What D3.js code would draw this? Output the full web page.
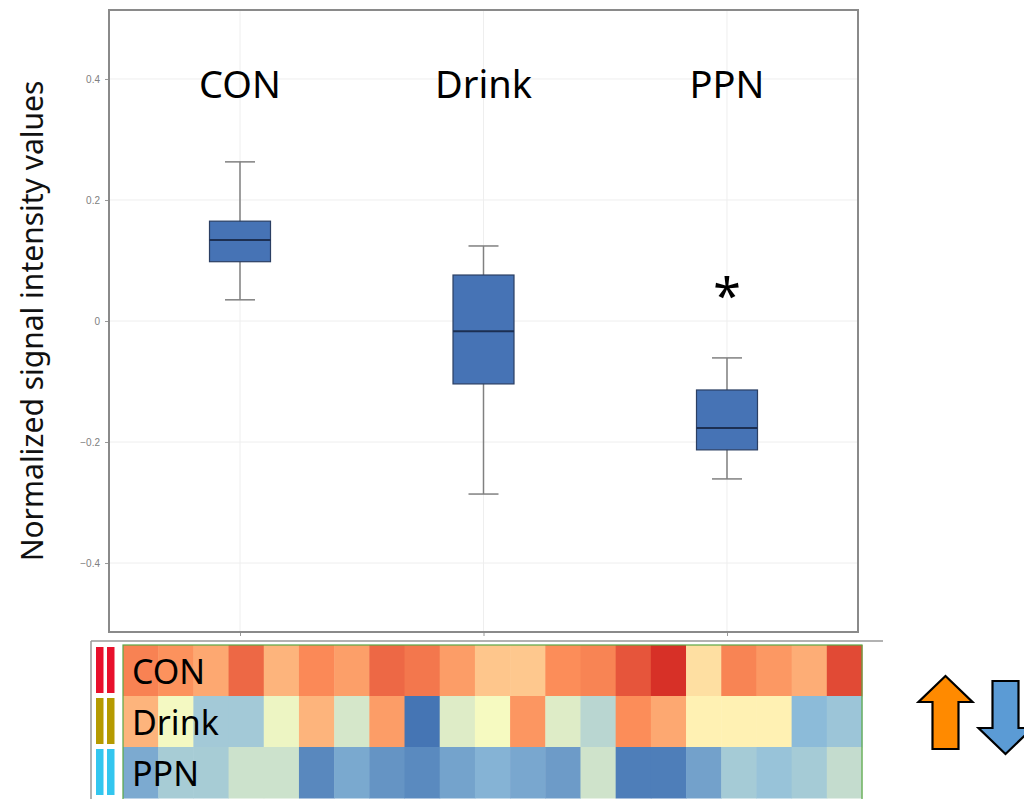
<!DOCTYPE html>
<html>
<head>
<meta charset="utf-8">
<script src="https://cdn.jsdelivr.net/npm/d3@7/dist/d3.min.js"></script>
<style>
  body { margin: 0; background: #fff; }
  svg { display: block; font-family: "Noto Sans", "Open Sans", sans-serif; }
</style>
</head>
<body>
<div id="chart"></div>
<script>
// box plot summary per group
var groups = ["CON", "Drink", "PPN"];
var whiskerHigh = [0.263, 0.124, -0.061];
var upperQuartile = [0.165, 0.076, -0.114];
var medians = [0.134, -0.017, -0.177];
var lowerQuartile = [0.098, -0.104, -0.213];
var whiskerLow = [0.035, -0.286, -0.261];
var yTicks = [-0.4, -0.2, 0, 0.2, 0.4];
var significant = [false, false, true];

// heatmap rows (scaled expression, -1 blue .. 1 red)
var heatRows = ["CON", "Drink", "PPN"];
var heatCON = [0.56, 0.48, 0.38, 0.70, 0.33, 0.52, 0.42, 0.70, 0.62, 0.43, 0.25, 0.24, 0.50, 0.55, 0.80, 1.00, 0.14, 0.55, 0.45, 0.36, 0.86];
var heatDrink = [0.33, -0.05, -0.42, -0.42, -0.08, 0.33, -0.19, 0.43, -1.00, -0.15, -0.04, 0.46, -0.15, -0.32, 0.50, 0.38, 0.06, 0.06, 0.06, -0.53, -0.45];
var heatPPN = [-0.64, -0.40, -0.40, -0.23, -0.23, -0.87, -0.65, -0.79, -0.86, -0.69, -0.58, -0.66, -0.74, -0.22, -0.94, -0.94, -0.70, -0.41, -0.47, -0.41, -0.27];
var rowColors = ["#e8102c", "#b59a00", "#33c6ef"];

var width = 1024, height = 799;

var svg = d3.select("#chart").append("svg")
    .attr("width", width)
    .attr("height", height);

var panel = {left: 109, right: 858, top: 10, bottom: 632};

var x = d3.scalePoint()
    .domain(groups)
    .range([panel.left, panel.right])
    .padding(0.538);

var y = d3.scaleLinear()
    .domain([-0.514, 0.514])
    .range([panel.bottom, panel.top]);

// grid
var grid = svg.append("g");
grid.selectAll("line.h")
    .data(yTicks)
    .enter().append("line")
    .attr("x1", panel.left).attr("x2", panel.right)
    .attr("y1", function(d){ return y(d); })
    .attr("y2", function(d){ return y(d); })
    .attr("stroke", "#eeeeee");
grid.selectAll("line.v")
    .data(groups)
    .enter().append("line")
    .attr("y1", panel.top).attr("y2", panel.bottom)
    .attr("x1", function(d){ return x(d); })
    .attr("x2", function(d){ return x(d); })
    .attr("stroke", "#eeeeee");

// axes
var yAxis = svg.append("g")
    .attr("transform", "translate(" + panel.left + ",0)")
    .call(d3.axisLeft(y).tickValues(yTicks).tickSize(4).tickPadding(5)
        .tickFormat(function(d){ return d === 0 ? "0" : d3.format(".1f")(d); }));
yAxis.select(".domain").remove();
yAxis.selectAll("line").attr("stroke", "#999");
yAxis.selectAll("text").attr("fill", "#808080").style("font-size", "10px");

var xAxis = svg.append("g")
    .attr("transform", "translate(0," + panel.bottom + ")")
    .call(d3.axisBottom(x).tickSize(4).tickFormat(""));
xAxis.select(".domain").remove();
xAxis.selectAll("line").attr("stroke", "#999");

svg.append("rect")
    .attr("x", panel.left).attr("y", panel.top)
    .attr("width", panel.right - panel.left)
    .attr("height", panel.bottom - panel.top)
    .attr("fill", "none")
    .attr("stroke", "#8a8a8a")
    .attr("stroke-width", 2);

svg.append("text")
    .attr("transform", "translate(43," + y(0) + ") rotate(-90)")
    .attr("text-anchor", "middle")
    .style("font-size", "30px")
    .attr("fill", "#111")
    .text("Normalized signal intensity values");

// boxes
var boxW = 61, capW = 30;
var boxes = svg.append("g").selectAll("g")
    .data(groups)
    .enter().append("g");

boxes.append("line")
    .attr("x1", function(d){ return x(d); })
    .attr("x2", function(d){ return x(d); })
    .attr("y1", function(d, i){ return y(whiskerHigh[i]); })
    .attr("y2", function(d, i){ return y(whiskerLow[i]); })
    .attr("stroke", "#808080").attr("stroke-width", 1.5);

boxes.selectAll("line.cap")
    .data(function(d, i){ return [{g: d, v: whiskerHigh[i]}, {g: d, v: whiskerLow[i]}]; })
    .enter().append("line")
    .attr("class", "cap")
    .attr("x1", function(d){ return x(d.g) - capW / 2; })
    .attr("x2", function(d){ return x(d.g) + capW / 2; })
    .attr("y1", function(d){ return y(d.v); })
    .attr("y2", function(d){ return y(d.v); })
    .attr("stroke", "#808080").attr("stroke-width", 1.5);

boxes.append("rect")
    .attr("x", function(d){ return x(d) - boxW / 2; })
    .attr("y", function(d, i){ return y(upperQuartile[i]); })
    .attr("width", boxW)
    .attr("height", function(d, i){ return y(lowerQuartile[i]) - y(upperQuartile[i]); })
    .attr("fill", "#4673b5")
    .attr("stroke", "#2b3f63").attr("stroke-width", 1.2);

boxes.append("line")
    .attr("x1", function(d){ return x(d) - boxW / 2; })
    .attr("x2", function(d){ return x(d) + boxW / 2; })
    .attr("y1", function(d, i){ return y(medians[i]); })
    .attr("y2", function(d, i){ return y(medians[i]); })
    .attr("stroke", "#1c2f52").attr("stroke-width", 2);

// group titles
svg.append("g").selectAll("text")
    .data(groups)
    .enter().append("text")
    .attr("x", function(d){ return x(d); })
    .attr("y", 98)
    .attr("text-anchor", "middle")
    .style("font-size", "38px")
    .attr("fill", "#000")
    .text(function(d){ return d; });

svg.append("g").selectAll("text")
    .data(groups.filter(function(d, i){ return significant[i]; }))
    .enter().append("text")
    .attr("x", function(d){ return x(d); })
    .attr("y", function(d){ return y(whiskerHigh[groups.indexOf(d)]) - 44; })
    .attr("text-anchor", "middle")
    .style("font-size", "50px")
    .attr("fill", "#000")
    .text("*");

// heatmap
var heatValues = [heatCON, heatDrink, heatPPN];
var cols = d3.range(heatCON.length);
var hx = d3.scaleBand().domain(cols).range([123, 862]);
var hy = d3.scaleBand().domain(heatRows).range([645, 798]);
var color = d3.scaleLinear()
    .domain([-1, -0.5, 0, 0.5, 1])
    .range(["#4575b4", "#91bfdb", "#ffffbf", "#fc8d59", "#d73027"]);

svg.append("line")
    .attr("x1", 91).attr("x2", 883)
    .attr("y1", 641).attr("y2", 641)
    .attr("stroke", "#999").attr("stroke-width", 1.5);
svg.append("line")
    .attr("x1", 91).attr("x2", 91)
    .attr("y1", 641).attr("y2", height)
    .attr("stroke", "#999").attr("stroke-width", 1.5);

var rows = svg.append("g").selectAll("g")
    .data(heatRows)
    .enter().append("g");

rows.selectAll("rect")
    .data(function(d, i){ return heatValues[i]; })
    .enter().append("rect")
    .attr("x", function(d, j){ return hx(j); })
    .attr("y", function(){ return hy(d3.select(this.parentNode).datum()); })
    .attr("width", hx.bandwidth() + 0.5)
    .attr("height", hy.bandwidth() + 0.5)
    .attr("fill", function(d){ return color(d); });

svg.append("rect")
    .attr("x", 123).attr("y", 645)
    .attr("width", 862 - 123).attr("height", 160)
    .attr("fill", "none")
    .attr("stroke", "#5aa845").attr("stroke-width", 1.2);

// group colour bars
rows.selectAll("rect.bar")
    .data(function(d, i){ return [{row: d, i: i, x: 96}, {row: d, i: i, x: 107}]; })
    .enter().append("rect")
    .attr("class", "bar")
    .attr("x", function(d){ return d.x; })
    .attr("y", function(d){ return hy(d.row) + 2; })
    .attr("width", 7.5)
    .attr("height", hy.bandwidth() - 5)
    .attr("fill", function(d){ return rowColors[d.i]; });

rows.append("text")
    .attr("x", 132)
    .attr("y", function(d){ return hy(d) + 39; })
    .style("font-size", "34px")
    .attr("fill", "#000")
    .text(function(d){ return d; });

// up / down arrows
function arrow(cx, tipY, dir, fill) {
    var hw = 27, sw = 13, head = 26, len = 73;
    var s = dir;
    var pts = [
        [cx, tipY],
        [cx + hw, tipY + s * head],
        [cx + sw, tipY + s * head],
        [cx + sw, tipY + s * len],
        [cx - sw, tipY + s * len],
        [cx - sw, tipY + s * head],
        [cx - hw, tipY + s * head]
    ];
    svg.append("path")
        .attr("d", d3.line()(pts) + "Z")
        .attr("fill", fill)
        .attr("stroke", "#000")
        .attr("stroke-width", 2.2)
        .attr("stroke-linejoin", "miter");
}
arrow(945.5, 676, 1, "#ff8a00");
arrow(1005.5, 754, -1, "#5b9bd5");
</script>
</body>
</html>
